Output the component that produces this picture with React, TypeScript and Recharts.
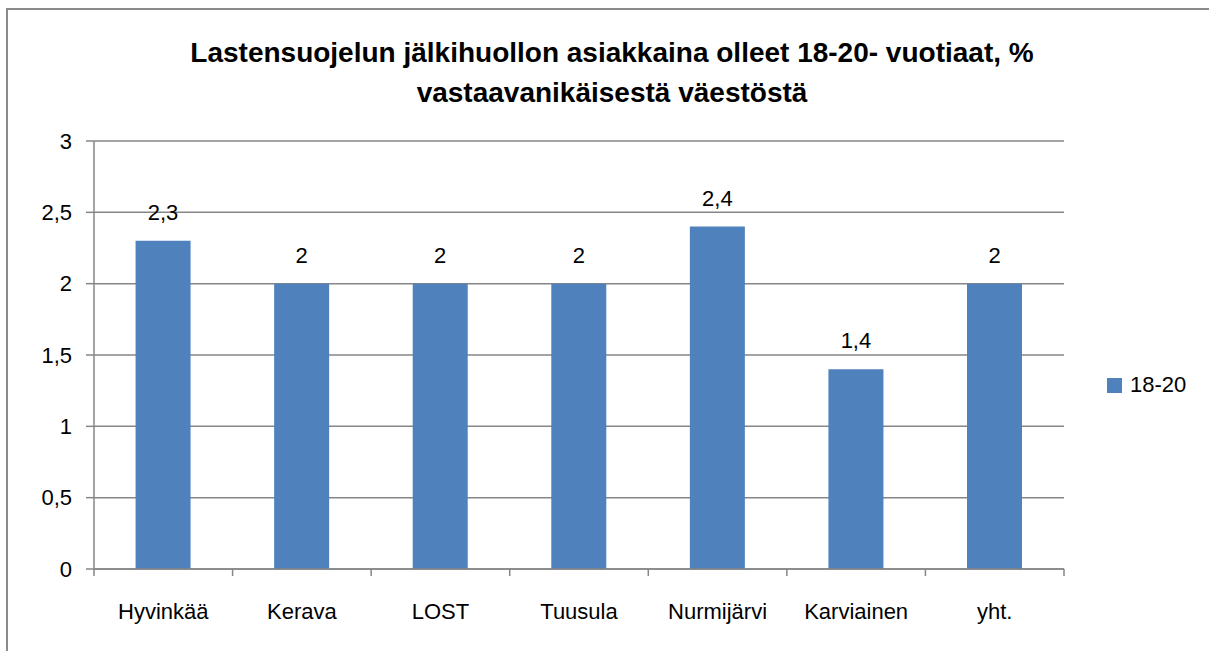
import { BarChart, Bar, XAxis, YAxis, CartesianGrid, LabelList } from "recharts";

// Kunnat ja osuudet (%)
const categories = ["Hyvinkää", "Kerava", "LOST", "Tuusula", "Nurmijärvi", "Karviainen", "yht."];
const values1820 = [2.3, 2, 2, 2, 2.4, 1.4, 2];
const yTicks = [0, 0.5, 1, 1.5, 2, 2.5, 3];

const data = categories.map((name, i) => ({ name, v: values1820[i] }));

const fmt = (v: number) => String(v).replace(".", ",");
const FONT = "'Liberation Sans', Arial, sans-serif";
const GRID = "#868686";
const BLUE = "#4F81BD";

const TICK_SIZE = 7;
const TICK_MARGIN = 27;

// category label + boundary tick marks (Excel style, between categories)
const CatTick = (props: any) => {
  const { x, y, payload, index, visibleTicksCount } = props;
  const half = payload.offset || 0;
  const y0 = y - TICK_MARGIN - TICK_SIZE;
  const y1 = y - TICK_MARGIN;
  return (
    <g>
      <line x1={x - half} x2={x - half} y1={y0} y2={y1} stroke={GRID} strokeWidth={1.5} />
      {index === visibleTicksCount - 1 && (
        <line x1={x + half} x2={x + half} y1={y0} y2={y1} stroke={GRID} strokeWidth={1.5} />
      )}
      <text x={x} y={y} dy="0.71em" textAnchor="middle" fill="#000" fontSize={22} fontFamily={FONT}>
        {payload.value}
      </text>
    </g>
  );
};

export default function App() {
  return (
    <div style={{ position: "relative", width: 1209, height: 651, overflow: "hidden", fontFamily: FONT }}>
      <style>{`body{margin:0;overflow:hidden}`}</style>
      <div
        style={{
          position: "absolute",
          left: 6,
          top: 8,
          width: 1230,
          height: 680,
          border: "2px solid #8a8a8a",
          boxSizing: "border-box",
        }}
      />
      <div
        style={{
          position: "absolute",
          left: 0,
          width: 1224,
          top: 33,
          textAlign: "center",
          fontWeight: "bold",
          fontSize: 28,
          lineHeight: "40px",
          color: "#000",
        }}
      >
        Lastensuojelun jälkihuollon asiakkaina olleet 18-20- vuotiaat, %
        <br />
        vastaavanikäisestä väestöstä
      </div>
      <div style={{ position: "absolute", left: 0, top: 0 }}>
        <BarChart
          width={1209}
          height={651}
          data={data}
          barCategoryGap="30%"
          margin={{ top: 141, right: 145, left: 0, bottom: 0 }}
        >
          <CartesianGrid vertical={false} stroke={GRID} strokeWidth={1.5} />
          <XAxis
            dataKey="name"
            tickLine={false}
            axisLine={{ stroke: GRID, strokeWidth: 1.5 }}
            tick={<CatTick />}
            tickSize={TICK_SIZE}
            tickMargin={TICK_MARGIN}
            height={82}
            interval={0}
          />
          <YAxis
            domain={[0, 3]}
            ticks={yTicks}
            tickFormatter={fmt}
            width={94}
            axisLine={{ stroke: GRID, strokeWidth: 1.5 }}
            tickLine={{ stroke: GRID, strokeWidth: 1.5 }}
            tickSize={8}
            tickMargin={14}
            tick={{ fill: "#000", fontSize: 22, fontFamily: FONT }}
          />
          <Bar dataKey="v" fill={BLUE} isAnimationActive={false}>
            <LabelList
              dataKey="v"
              position="top"
              offset={21}
              formatter={(v: any) => fmt(Number(v))}
              style={{ fill: "#000", fontSize: 22, fontFamily: FONT }}
            />
          </Bar>
        </BarChart>
      </div>
      <div
        style={{
          position: "absolute",
          left: 1107,
          top: 372,
          display: "flex",
          alignItems: "center",
          fontSize: 22,
          color: "#000",
        }}
      >
        <span style={{ display: "inline-block", width: 15, height: 15, background: BLUE, marginRight: 8 }} />
        18-20
      </div>
    </div>
  );
}
